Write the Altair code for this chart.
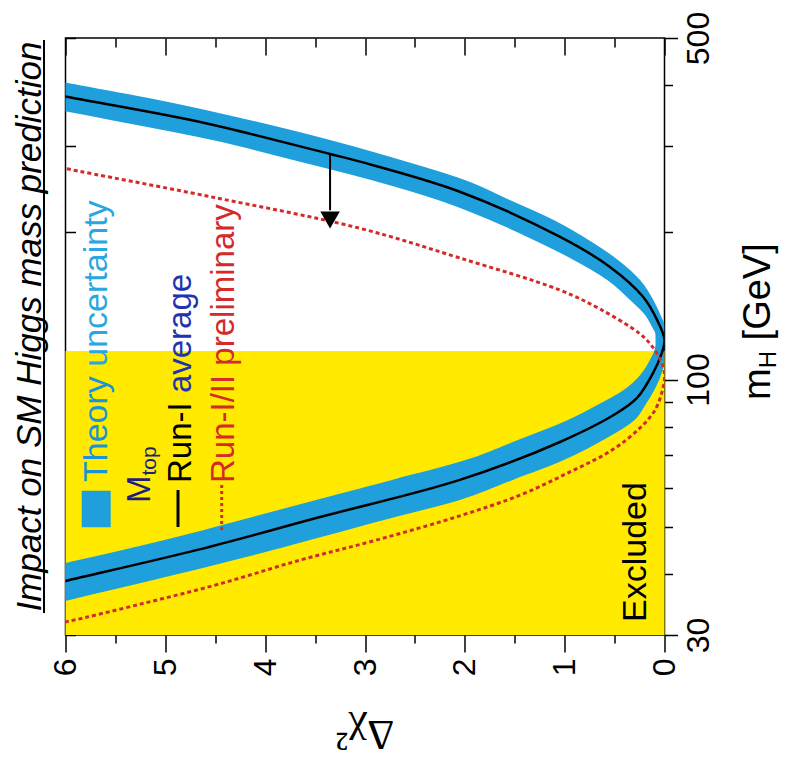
import altair as alt
import pandas as pd

FONT = "Liberation Sans"
BAND = "#1f9fdc"
YELLOW = "#ffea00"
RED = "#d42a2a"

# ---------------- values ----------------
dchi2_ticks = [0, 0.5, 1, 1.5, 2, 2.5, 3, 3.5, 4, 4.5, 5, 5.5, 6]
dchi2_major = [0, 1, 2, 3, 4, 5, 6]
dchi2_minor = [0.5, 1.5, 2.5, 3.5, 4.5, 5.5]
mh_ticks = [30, 40, 50, 60, 70, 80, 90, 100, 200, 300, 400, 500]
mh_labels = [30, 100, 500]

excluded_mh = [30, 114.4]
excluded_dchi2 = [0, 6]

# Run-I average (solid black)
black_dchi2 = [6.61, 5.99, 4.65, 3.35, 3.05, 2.05, 1.05, 0.55, 0.215, 0.065, 0.0,
               0.035, 0.115, 0.275, 0.476, 1.047, 2.05, 3.45, 4.68, 6.0, 6.6]
black_mh = [400.6, 379.1, 336.6, 289.4, 279.2, 242.3, 196.0, 170.2, 147.7, 131.2, 120.5,
            112.2, 103.1, 91.7, 85.4, 74.5, 62.3, 52.3, 44.8, 38.7, 36.2]

# Run-I/II preliminary (red dotted)
red_dchi2 = [6.26, 6.0, 4.55, 3.05, 2.05, 1.05, 0.646, 0.245, 0.135, 0.04, 0.0,
             0.02, 0.095, 0.245, 0.526, 0.947, 1.447, 2.05, 2.89, 3.65, 4.47, 5.25, 5.97, 6.25]
red_mh = [277.4, 270.3, 236.7, 203.9, 177.3, 152.5, 139.4, 124.0, 117.7, 109.6, 102.6,
          95.2, 86.6, 79.6, 71.7, 64.7, 58.0, 52.6, 46.9, 42.7, 38.1, 34.7, 32.0, 31.2]

# Theory uncertainty band (Δχ² range at each m_H)
band_mh = [420.1, 400.6, 373.4, 339.8, 309.2, 281.4, 256.1, 233.1, 212.1, 193.0,
           175.7, 159.9, 145.5, 135.5, 128.7, 123.4, 117.7, 109.6, 102.2, 95.2,
           88.7, 82.6, 75.2, 68.4, 62.3, 56.7, 51.6, 46.9, 42.7, 38.9, 35.4, 33.0]
band_lo = [6.39, 5.87, 5.07, 4.16, 3.35, 2.64, 2.00, 1.55, 1.11, 0.76,
           0.466, 0.245, 0.112, 0.04, 0.0, 0.0, 0.0, 0.0, 0.035, 0.102,
           0.192, 0.30, 0.614, 1.008, 1.52, 2.05, 2.81, 3.56, 4.31, 5.11, 5.96, 6.6]
band_hi = [7.93, 7.40, 6.61, 5.55, 4.53, 3.72, 2.94, 2.27, 1.75, 1.31,
           0.91, 0.574, 0.345, 0.195, 0.13, 0.09, 0.09, 0.147, 0.243, 0.409,
           0.673, 0.968, 1.469, 1.995, 2.73, 3.49, 4.24, 5.02, 5.87, 6.72, 7.57, 8.0]

# arrow (shift of the curve)
arrow_dchi2 = [3.35]
arrow_mh_from = [289.0]
arrow_mh_to = [222.0]
arrow_mh_head = [212.1]

# ---------------- tables ----------------
excl_df = pd.DataFrame({"x0": [excluded_dchi2[0]], "x1": [excluded_dchi2[1]],
                        "y0": [excluded_mh[0]], "y1": [excluded_mh[1]]})
black_df = pd.DataFrame({"d": black_dchi2, "m": black_mh, "i": list(range(len(black_mh)))})
red_df = pd.DataFrame({"d": red_dchi2, "m": red_mh, "i": list(range(len(red_mh)))})
band_df = pd.DataFrame({"m": band_mh, "lo": band_lo, "hi": band_hi})
arrow_df = pd.DataFrame({"d": arrow_dchi2, "a": arrow_mh_from, "b": arrow_mh_to, "h": arrow_mh_head})
one = pd.DataFrame({"k": [0]})

xs = alt.Scale(domain=[0, 6], reverse=True, nice=False, zero=False)
ys = alt.Scale(type="log", domain=[30, 500], nice=False)

is_int = "datum.value % 1 === 0"
lab_test = " || ".join(f"datum.value == {v}" for v in mh_labels)

x_main_axis = alt.Axis(
    orient="bottom", values=dchi2_ticks, domain=False, grid=False, title=None,
    labelExpr=f"{is_int} ? '' + datum.value : ''",
    tickSize={"condition": {"test": is_int, "value": 17}, "value": 8},
    tickColor="black", tickWidth=1.5,
    labelAngle=270, labelAlign="right", labelBaseline="middle",
    labelFont=FONT, labelFontSize=32, labelColor="black", labelPadding=6,
)
y_main_axis = alt.Axis(
    orient="right", values=mh_ticks, domain=False, grid=False, title=None,
    labelExpr=f"({lab_test}) ? '' + datum.value : ''",
    tickSize={"condition": {"test": lab_test, "value": 13}, "value": 8},
    tickColor="black", tickWidth=1.5,
    labelAngle=270, labelAlign="center", labelBaseline="top",
    labelFont=FONT, labelFontSize=32, labelColor="black", labelPadding=6,
)
x_top_major = alt.Axis(orient="top", values=dchi2_major, offset=-17, tickSize=17,
                       labels=False, domain=False, grid=False, title=None,
                       tickColor="black", tickWidth=1.5)
x_top_minor = alt.Axis(orient="top", values=dchi2_minor, offset=-9, tickSize=9,
                       labels=False, domain=False, grid=False, title=None,
                       tickColor="black", tickWidth=1.5)
y_left_mirror = alt.Axis(orient="left", values=mh_ticks, offset=-10, tickSize=10,
                         labels=False, domain=False, grid=False, title=None,
                         tickColor="black", tickWidth=1.5)

rect = alt.Chart(excl_df).mark_rect(color=YELLOW).encode(
    x=alt.X("x0:Q", scale=xs, axis=x_main_axis), x2="x1:Q",
    y=alt.Y("y0:Q", scale=ys, axis=y_main_axis), y2="y1:Q")

band = alt.Chart(band_df).mark_area(orient="horizontal", color=BAND, clip=True,
                                    interpolate="monotone", opacity=1).encode(
    y=alt.Y("m:Q", scale=ys, axis=y_left_mirror),
    x=alt.X("lo:Q", scale=xs, axis=x_top_major), x2="hi:Q")

black = alt.Chart(black_df).mark_line(color="black", strokeWidth=2.5, clip=True,
                                      interpolate="catmull-rom").encode(
    x=alt.X("d:Q", scale=xs, axis=x_top_minor),
    y=alt.Y("m:Q", scale=ys, axis=None), order="i:Q")

red = alt.Chart(red_df).mark_line(color=RED, strokeWidth=3, strokeDash=[4, 3], clip=True,
                                  interpolate="catmull-rom").encode(
    x=alt.X("d:Q", scale=xs, axis=None),
    y=alt.Y("m:Q", scale=ys, axis=None), order="i:Q")

arrow_rule = alt.Chart(arrow_df).mark_rule(color="black", strokeWidth=2).encode(
    x=alt.X("d:Q", scale=xs, axis=None),
    y=alt.Y("a:Q", scale=ys, axis=None), y2="b:Q")
arrow_head = alt.Chart(arrow_df).mark_point(shape="triangle-down", filled=True, color="black",
                                            size=380, opacity=1).encode(
    x=alt.X("d:Q", scale=xs, axis=None),
    y=alt.Y("h:Q", scale=ys, axis=None))


def txt(s, x, y, size, color="black", angle=270, align="left", baseline="alphabetic",
        style="normal", font=FONT):
    return alt.Chart(one).mark_text(text=s, angle=angle, align=align, baseline=baseline,
                                    font=font, fontSize=size, color=color,
                                    fontStyle=style).encode(x=alt.value(x), y=alt.value(y))


texts = [
    # title (left, underlined)
    txt("Impact on SM Higgs mass prediction", -24.5, 288.5, 35, align="center", style="italic"),
    # legend
    txt("Theory", 41.5, 444, 34, color="#1b93d6"),
    txt("uncertainty", 41.5, 328.7, 34, color="#2aa7e0"),
    txt("M", 84.5, 465, 33, color="#1e1e78"),
    txt("top", 90.5, 437.5, 21, color="#1e1e78"),
    txt("Run-I", 125, 445, 33, color="black"),
    txt("average", 125, 355.1, 33, color="#2233b0"),
    txt("Run-I/II preliminary", 168, 445, 33, color=RED),
    txt("Excluded", 580.5, 584, 34),
    # axis titles
    txt("m", 704, 362, 38),
    txt("H", 710, 330.3, 24),
    txt("[GeV]", 704, 302.4, 38),
    txt("Δχ²", 299.5, 683, 42, angle=180, align="center", font="Liberation Serif"),
]

underline = alt.Chart(one).mark_rule(color="black", strokeWidth=2).encode(
    x=alt.value(-21.5), y=alt.value(2), y2=alt.value(575))
swatch = alt.Chart(one).mark_rect(color=BAND).encode(
    x=alt.value(16.2), x2=alt.value(45.2), y=alt.value(452.7), y2=alt.value(489.3))
dash_black = alt.Chart(one).mark_rule(color="black", strokeWidth=3).encode(
    x=alt.value(112.5), y=alt.value(452), y2=alt.value(489))
dash_red = alt.Chart(one).mark_rule(color=RED, strokeWidth=3, strokeDash=[3, 3]).encode(
    x=alt.value(156.2), y=alt.value(447), y2=alt.value(492))

chart = alt.layer(
    rect, band, black, red, arrow_rule, arrow_head,
    underline, swatch, dash_black, dash_red, *texts
).resolve_axis(x="independent", y="independent").properties(
    width=599, height=597,
    autosize=alt.AutoSizeParams(type="none"),
    padding={"left": 57.5, "top": 30, "right": 117.5, "bottom": 125},
    background="white",
).configure_view(stroke="black", strokeWidth=1.5)

chart.save("out.html", embed_options={"renderer": "svg", "actions": False})
